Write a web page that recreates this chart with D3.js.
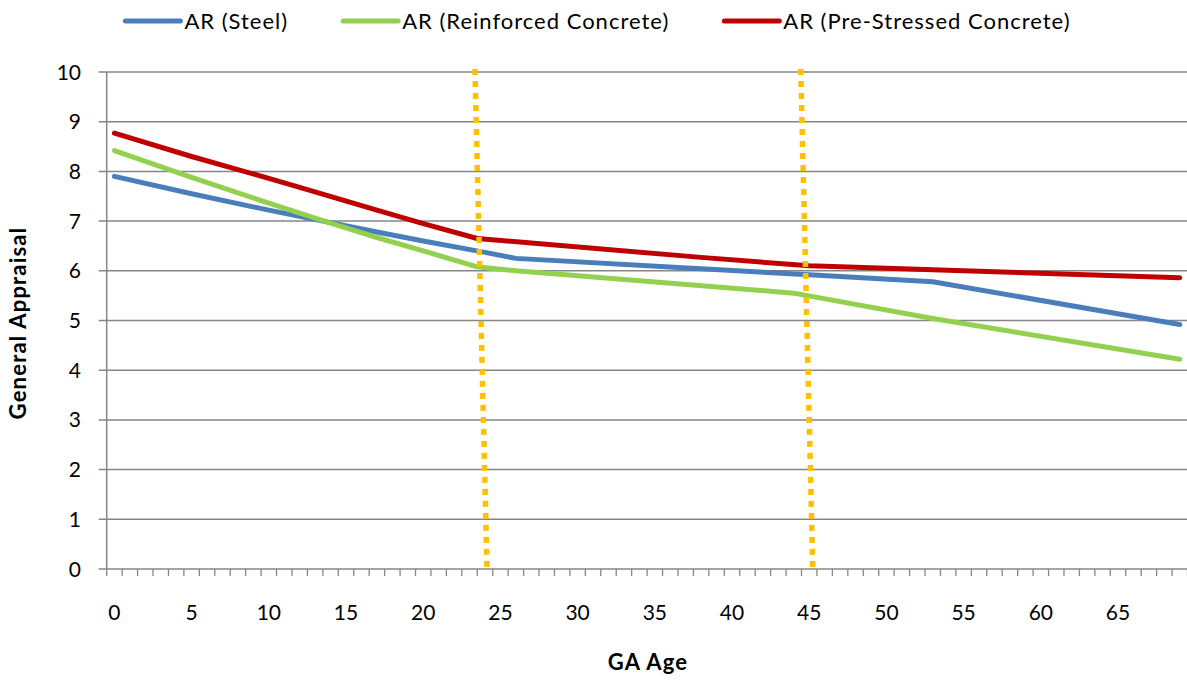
<!DOCTYPE html>
<html>
<head>
<meta charset="utf-8">
<script src="https://cdn.jsdelivr.net/npm/d3@7"></script>
<style>
  html, body { margin: 0; padding: 0; background: #fff; }
  svg { display: block; font-family: Lato, "Open Sans", sans-serif; }
</style>
</head>
<body>
<svg id="chart" width="1187" height="681"></svg>
<script>
// ---- data ----
const seriesNames = ["AR (Steel)", "AR (Reinforced Concrete)", "AR (Pre-Stressed Concrete)"];
const seriesColors = ["#4A7EBB", "#92D050", "#C00000"];

const steelAge = [0, 5, 10, 14, 17, 20, 24, 26, 38, 45, 53, 69];
const steelAR  = [7.90, 7.55, 7.22, 6.97, 6.78, 6.60, 6.37, 6.25, 6.04, 5.92, 5.78, 4.92];

const rcAge = [0, 5, 10, 14, 17, 20, 23.5, 26, 44, 53, 69];
const rcAR  = [8.42, 7.88, 7.36, 6.96, 6.67, 6.40, 6.08, 6.00, 5.55, 5.04, 4.22];

const psAge = [0, 5, 10, 12, 17, 20, 23.5, 27, 38, 45, 53, 69];
const psAR  = [8.77, 8.30, 7.86, 7.68, 7.22, 6.95, 6.65, 6.56, 6.27, 6.10, 6.02, 5.86];

const categories = d3.range(0, 70);            // GA Age categories 0..69
const xTickLabels = [0, 5, 10, 15, 20, 25, 30, 35, 40, 45, 50, 55, 60, 65];
const yTickLabels = [0, 1, 2, 3, 4, 5, 6, 7, 8, 9, 10];

// dotted marker lines (slightly slanted, as drawn in the reference)
const markerTopAge    = [23.35, 44.45];
const markerBottomAge = [24.13, 45.23];
const markerTopVal = 10.06;
const markerBottomVal = 0.03;

// ---- layout ----
const svg = d3.select("#chart");
const pL = 106.7, pR = 1187.5, pT = 72, pB = 569;
const x = d3.scaleLinear().domain([-0.5, 69.5]).range([pL, pR]);
const y = d3.scaleLinear().domain([0, 10]).range([pB, pT]);
const grey = "#868686";
const fs = 21;

// gridlines + y ticks
svg.append("g").selectAll("line").data(yTickLabels).join("line")
  .attr("x1", pL - 8).attr("x2", pR)
  .attr("y1", d => y(d)).attr("y2", d => y(d))
  .attr("stroke", grey).attr("stroke-width", 1.5);

// y axis line
svg.append("line").attr("x1", pL).attr("x2", pL)
  .attr("y1", pT).attr("y2", pB)
  .attr("stroke", grey).attr("stroke-width", 1.5);

// x axis category tick marks (between categories)
const boundaries = categories.map(c => c - 0.5).concat([69.5]);
svg.append("g").selectAll("line").data(boundaries).join("line")
  .attr("x1", d => x(d)).attr("x2", d => x(d))
  .attr("y1", pB).attr("y2", pB + 7)
  .attr("stroke", grey).attr("stroke-width", 1.3);

// y tick labels
svg.append("g").selectAll("text").data(yTickLabels).join("text")
  .attr("x", 81).attr("y", d => y(d))
  .attr("dy", "0.36em")
  .attr("text-anchor", "end")
  .attr("font-size", fs).attr("fill", "#000")
  .text(d => d);

// x tick labels
svg.append("g").selectAll("text").data(xTickLabels).join("text")
  .attr("x", d => x(d)).attr("y", 620)
  .attr("text-anchor", "middle")
  .attr("font-size", fs).attr("fill", "#000")
  .text(d => d);

// axis titles
svg.append("text").attr("x", 648).attr("y", 670)
  .attr("text-anchor", "middle").attr("font-size", 22).attr("font-weight", "bold")
  .attr("letter-spacing", 1.2)
  .text("GA Age");
svg.append("text")
  .attr("transform", "translate(26,323) rotate(-90)")
  .attr("text-anchor", "middle").attr("font-size", 22).attr("font-weight", "bold")
  .attr("letter-spacing", 1.2)
  .text("General Appraisal");

// series lines
const seriesData = [
  steelAge.map((a, i) => [a, steelAR[i]]),
  rcAge.map((a, i) => [a, rcAR[i]]),
  psAge.map((a, i) => [a, psAR[i]])
];
const line = d3.line().x(d => x(d[0])).y(d => y(d[1])).curve(d3.curveLinear);
svg.append("g").selectAll("path").data(seriesData).join("path")
  .attr("d", line)
  .attr("fill", "none")
  .attr("stroke", (d, i) => seriesColors[i])
  .attr("stroke-width", 5)
  .attr("stroke-linecap", "round")
  .attr("stroke-linejoin", "round");

// dotted marker lines
svg.append("g").selectAll("line").data(markerTopAge).join("line")
  .attr("x1", d => x(d)).attr("y1", y(markerTopVal))
  .attr("x2", (d, i) => x(markerBottomAge[i])).attr("y2", y(markerBottomVal))
  .attr("stroke", "#FFC000").attr("stroke-width", 5.5)
  .attr("stroke-dasharray", "6,6");

// legend
const legend = svg.append("g");
const legY = 21, lineLen = 55, gapText = 4, gapItem = 55;
let cx = 0;
seriesNames.forEach((name, i) => {
  const g = legend.append("g");
  g.append("line").attr("x1", cx).attr("x2", cx + lineLen)
    .attr("y1", legY).attr("y2", legY)
    .attr("stroke", seriesColors[i]).attr("stroke-width", 5).attr("stroke-linecap", "round");
  const t = g.append("text").attr("x", cx + lineLen + gapText).attr("y", legY)
    .attr("dy", "0.36em").attr("font-size", 22).attr("letter-spacing", 1)
    .attr("fill", "#000").text(name);
  cx += lineLen + gapText + t.node().getComputedTextLength() + gapItem;
});
const legW = cx - gapItem;
legend.attr("transform", `translate(${598 - legW / 2},0)`);
</script>
</body>
</html>
